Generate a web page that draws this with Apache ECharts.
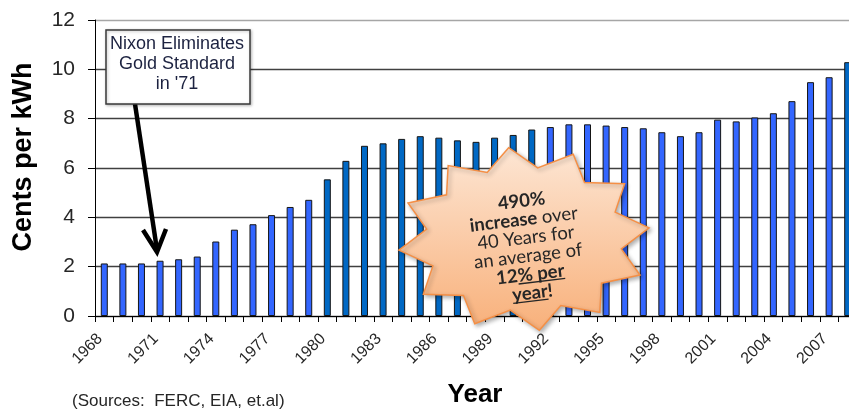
<!DOCTYPE html>
<html>
<head>
<meta charset="utf-8">
<script src="https://cdn.jsdelivr.net/npm/echarts@6/dist/echarts.min.js"></script>
<style>
html,body{margin:0;padding:0;background:#fff;}
#main{width:849px;height:411px;}
</style>
</head>
<body>
<div id="main"></div>
<script>
// ---- data ----
const years = ['1968','1969','1970','1971','1972','1973','1974','1975','1976','1977',
  '1978','1979','1980','1981','1982','1983','1984','1985','1986','1987',
  '1988','1989','1990','1991','1992','1993','1994','1995','1996','1997',
  '1998','1999','2000','2001','2002','2003','2004','2005','2006','2007','2008'];
const centsPerKWh = [2.13,2.13,2.13,2.24,2.30,2.41,3.02,3.50,3.72,4.09,
  4.42,4.71,5.54,6.29,6.90,7.00,7.18,7.29,7.23,7.12,
  7.06,7.23,7.34,7.56,7.66,7.77,7.77,7.72,7.66,7.61,
  7.45,7.29,7.45,7.96,7.89,8.05,8.22,8.71,9.48,9.68,10.29];
const darkYears = ['1980','1981','1982','1983','1984','1985','1986','1987','1988','1989','1990','1991','2008'];
const yTicks = [0, 2, 4, 6, 8, 10, 12];
const boxText = ['Nixon Eliminates', 'Gold Standard', "in '71"];
const sourcesText = '(Sources:  FERC, EIA, et.al)';

// ---- styles ----
const BRIGHT = '#3366FF', DARK = '#0068C4';
const SANS = '"Liberation Sans", Arial, sans-serif';
const STAR_FONT = 'Lato, "Open Sans", sans-serif';

const chart = echarts.init(document.getElementById('main'), null, {renderer: 'canvas'});

function starPoints(cx, cy, rx, ry, n, inner, phaseDeg) {
  const pts = [];
  for (let i = 0; i < 2 * n; i++) {
    const a = (phaseDeg + i * 180 / n) * Math.PI / 180;
    const f = (i % 2 === 0) ? 1 : inner;
    pts.push([cx + rx * f * Math.cos(a), cy + ry * f * Math.sin(a)]);
  }
  return pts;
}

const mctx = document.createElement('canvas').getContext('2d');
function tw(str, font) { mctx.font = font; return mctx.measureText(str).width; }

const SF = 18.5;
const boldFont = 'bold ' + SF + 'px ' + STAR_FONT;
const LH = 18.5;

const l5full = tw('12% per', boldFont), l5pre = tw('12', boldFont);
const l6full = tw('year!', boldFont), l6yr = tw('year', boldFont);
const UOFF = 8;
const ul1 = [-l5full / 2 + l5pre, 1.5 * LH + UOFF, l5full / 2, 1.5 * LH + UOFF];
const ul2 = [-l6full / 2, 2.5 * LH + UOFF, -l6full / 2 + l6yr, 2.5 * LH + UOFF];

const starRich = {
  b: {fontWeight: 'bold', fontSize: SF, fontFamily: STAR_FONT, color: '#262626', lineHeight: LH},
  n: {fontWeight: 'normal', fontSize: SF, fontFamily: STAR_FONT, color: '#262626', lineHeight: LH}
};

const option = {
  animation: false,
  backgroundColor: '#ffffff',
  grid: {left: 95, top: 20, width: 762, height: 296, containLabel: false, outerBoundsMode: 'none'},
  xAxis: {
    type: 'category',
    data: years,
    boundaryGap: true,
    axisLine: {show: true, lineStyle: {color: '#000', width: 1}},
    axisTick: {show: true, interval: 0, length: 6, lineStyle: {color: '#000'}},
    axisLabel: {
      show: true, interval: 2, rotate: 45, margin: 16, hideOverlap: false,
      color: '#262626', fontFamily: SANS, fontSize: 16, padding: [0, 6, 0, 0]
    },
    splitLine: {show: false}
  },
  yAxis: {
    type: 'value',
    min: yTicks[0], max: yTicks[yTicks.length - 1], interval: yTicks[1] - yTicks[0],
    axisLine: {show: true, lineStyle: {color: '#000', width: 1}},
    axisTick: {show: true, length: 7, lineStyle: {color: '#000'}},
    axisLabel: {fontSize: 21, margin: 20, color: '#262626', fontFamily: SANS},
    splitLine: {show: true, lineStyle: {color: ['#404040','#404040','#404040','#404040','#404040','#404040','#a6a6a6'], width: 1.3}}
  },
  series: [{
    type: 'bar',
    data: centsPerKWh,
    barWidth: 7,
    itemStyle: {
      borderColor: '#151515',
      borderWidth: 1,
      color: function (p) { return darkYears.indexOf(years[p.dataIndex]) >= 0 ? DARK : BRIGHT; }
    }
  }],
  graphic: [
    {type: 'text', x: 24, y: 157, rotation: Math.PI / 2, z: 100,
     style: {text: 'Cents per kWh', font: 'bold 27px ' + SANS, fill: '#000', align: 'center', verticalAlign: 'middle'}},
    {type: 'text', x: 475, y: 395, z: 100,
     style: {text: 'Year', font: 'bold 26px ' + SANS, fill: '#000', align: 'center', verticalAlign: 'middle'}},
    {type: 'text', x: 72, y: 401, z: 100,
     style: {text: sourcesText, font: '17px ' + SANS, fill: '#262626', align: 'left', verticalAlign: 'middle'}},
    {type: 'line', z: 99, shape: {x1: 135, y1: 104, x2: 157, y2: 250},
     style: {stroke: '#000', lineWidth: 4.5}},
    {type: 'polyline', z: 99, shape: {points: [[143, 230], [157, 252], [166, 229]]},
     style: {stroke: '#000', lineWidth: 4.5, fill: null, lineJoin: 'miter'}},
    {type: 'rect', z: 100, shape: {x: 106, y: 30, width: 144, height: 74},
     style: {fill: '#fff', stroke: '#3a3a3a', lineWidth: 1.5, shadowBlur: 3, shadowColor: 'rgba(0,0,0,0.25)', shadowOffsetX: 1, shadowOffsetY: 1}},
    {type: 'text', z: 101, x: 177, y: 64,
     style: {text: boxText.join('\n'), font: '18px ' + SANS, lineHeight: 20.3, fill: '#1c2240', align: 'center', verticalAlign: 'middle'}},
    {type: 'polygon', z: 100,
     shape: {points: starPoints(524, 239, 126, 92, 12, 0.78, -97)},
     style: {
       fill: new echarts.graphic.LinearGradient(0, 0, 0, 1, [{offset: 0, color: '#FDE6D4'}, {offset: 1, color: '#F8B07A'}]),
       stroke: '#F58F45', lineWidth: 1.5,
       shadowBlur: 4, shadowColor: 'rgba(0,0,0,0.3)', shadowOffsetX: 2, shadowOffsetY: 2
     }},
    {type: 'group', z: 101, x: 527, y: 247, rotation: 0.12,
     children: [
       {type: 'text', z: 101, x: 0, y: 0,
        style: {
          text: '{b|490%}\n{b|increase}{n| over}\n{n|40 Years for}\n{n|an average of}\n{b|12% per}\n{b|year!}',
          rich: starRich, align: 'center', verticalAlign: 'middle', fill: '#262626'
        }},
       {type: 'line', z: 101, shape: {x1: ul1[0], y1: ul1[1], x2: ul1[2], y2: ul1[3]}, style: {stroke: '#262626', lineWidth: 1.3}},
       {type: 'line', z: 101, shape: {x1: ul2[0], y1: ul2[1], x2: ul2[2], y2: ul2[3]}, style: {stroke: '#262626', lineWidth: 1.3}}
     ]}
  ]
};
chart.setOption(option);
</script>
</body>
</html>
